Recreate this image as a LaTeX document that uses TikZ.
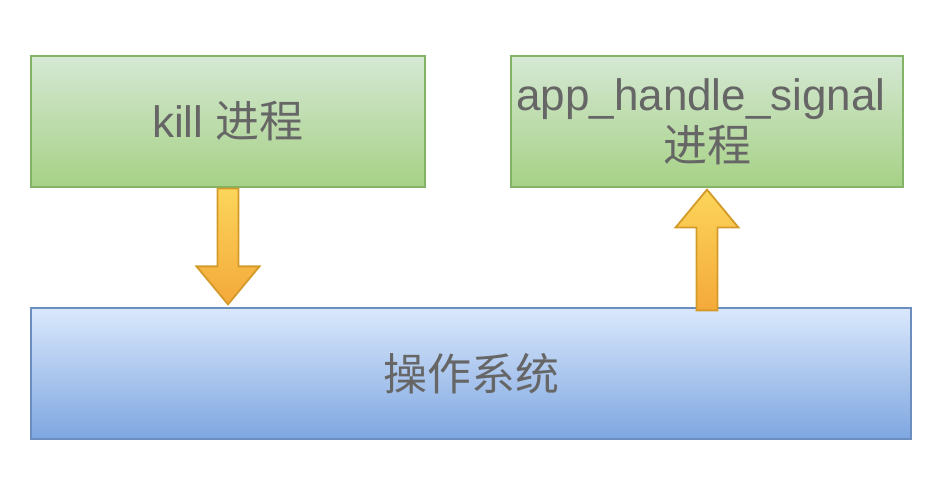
\documentclass[tikz,border=0pt]{standalone}
\usepackage{fontspec}
\setmainfont{Liberation Sans}
\newfontfamily\cjk{Noto Sans CJK SC}
\usetikzlibrary{calc}

\definecolor{greentop}{HTML}{D5E8D4}
\definecolor{greenbot}{HTML}{A6D185}
\definecolor{greenline}{HTML}{82B366}
\definecolor{bluetop}{HTML}{DAE8FC}
\definecolor{bluebot}{HTML}{7EA6E0}
\definecolor{blueline}{HTML}{6C8EBF}
\definecolor{arrowtop}{HTML}{FCD55A}
\definecolor{arrowbot}{HTML}{F4A93A}
\definecolor{arrowline}{HTML}{D39A2A}
\definecolor{txt}{HTML}{666666}

\tikzset{
  procbox/.style={draw=greenline, line width=1.2pt, top color=greentop, bottom color=greenbot,
    minimum width=394pt, minimum height=131pt, inner sep=0pt, align=center, text=txt,
    font=\fontsize{44}{53}\selectfont},
  osbox/.style={draw=blueline, line width=1.2pt, top color=bluetop, bottom color=bluebot,
    minimum width=880pt, minimum height=131pt, inner sep=0pt, align=center, text=txt,
    font=\fontsize{44}{53}\selectfont},
  fatarrow/.style={draw=arrowline, line width=1.8pt, top color=arrowtop, bottom color=arrowbot,
    line join=miter}
}

% #1 tail, #2 tip, #3 = 1 for up, -1 for down
\newcommand{\fatarrow}[3]{%
  \draw[fatarrow] let \p1=(#1), \p2=(#2) in
    (\x1-10.5pt,\y1) -- (\x1-10.5pt,\y2-#3*38pt) -- (\x1-31.5pt,\y2-#3*38pt) -- (\x1,\y2)
    -- (\x1+31.5pt,\y2-#3*38pt) -- (\x1+10.5pt,\y2-#3*38pt) -- (\x1+10.5pt,\y1) -- cycle;}

\begin{document}
\begin{tikzpicture}[x=1pt,y=1pt]
  \useasboundingbox (0,0) rectangle (942,478);

  \node[procbox] (kill) at (228,356.5) {kill {\cjk 进程}};
  \node[procbox, minimum width=392pt] (app) at (707,356.5) {app\_handle\_signal\hspace*{12pt}\\[-2pt]{\cjk 进程}};
  \node[osbox] (os) at (471,104.5) {\cjk 操作系统};

  \coordinate (killout) at ($(kill.south)+(0,-1)$);
  \coordinate (osin) at ($(kill.south |- os.north)+(0,3)$);
  \coordinate (osout) at ($(app.south |- os.north)+(0,-3)$);
  \coordinate (appin) at ($(app.south)+(0,-2)$);

  \fatarrow{killout}{osin}{-1}
  \fatarrow{osout}{appin}{1}
\end{tikzpicture}
\end{document}
